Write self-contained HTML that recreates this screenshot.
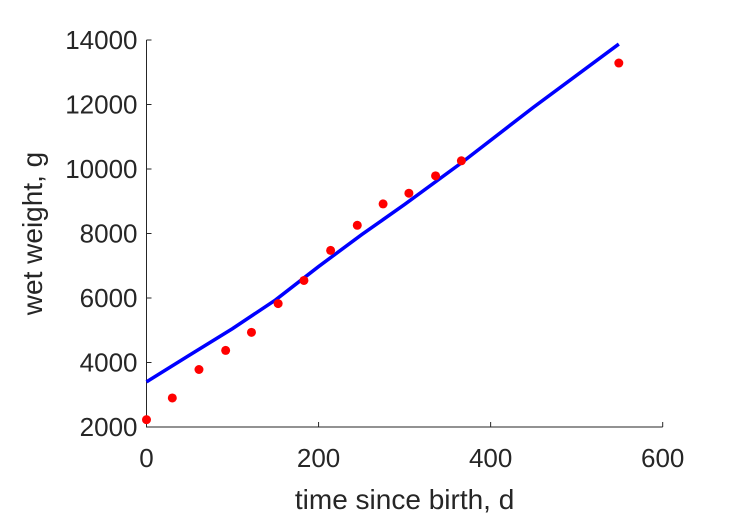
<!DOCTYPE html>
<html><head><meta charset="utf-8"><style>
body{margin:0;background:#fff;}
svg{display:block;font-family:"Liberation Sans",Arial,sans-serif;}
</style></head><body>
<svg id="chart" width="729" height="521"></svg>
<script>
const obsTime=[0,30,61,92,122,153,183,214,245,275,305,336,366,549];
const obsWeight=[2227,2900,3783,4375,4935,5827,6543,7476,8254,8917,9250,9788,10254,13285];
const fitTime=[0,50,100,150,200,250,300,366,450,549];
const fitWeight=[3400,4230,5050,5940,6975,7963,8900,10190,11920,13875];
const xTicks=[0,200,400,600];
const yTicks=[2000,4000,6000,8000,10000,12000,14000];
const X0=146.5,X1=662.7,Y0=427,Y1=40;
const sx=v=>X0+(v-0)/600*(X1-X0);
const sy=v=>Y0-(v-2000)/12000*(Y0-Y1);
const svg=document.getElementById('chart');
const NS='http://www.w3.org/2000/svg';
function mk(t,a){const e=document.createElementNS(NS,t);for(const k in a)e.setAttribute(k,a[k]);svg.appendChild(e);return e;}
let ax=mk('path',{d:`M${X0},${Y1}V${Y0}H${X1}`,fill:'none',stroke:'#262626','stroke-width':1});


xTicks.forEach(v=>{
 const t=mk('line',{x1:sx(v),x2:sx(v),y1:Y0,y2:Y0-5,stroke:'#262626'});
 
 
 const l=mk('text',{x:sx(v),y:Y0+40,'text-anchor':'middle','font-size':26,fill:'#262626'});
 l.textContent=v;
 
 
});
yTicks.forEach(v=>{
 const t=mk('line',{x1:X0,x2:X0+5,y1:sy(v),y2:sy(v),stroke:'#262626'});
 
 
 const l=mk('text',{x:X0-9,y:sy(v)+9,'text-anchor':'end','font-size':26,fill:'#262626'});
 l.textContent=v;
 
 
});
const xt=mk('text',{x:(X0+X1)/2,y:509,'text-anchor':'middle','font-size':28,fill:'#262626'});
xt.textContent='time since birth, d';


const yt=mk('text',{x:0,y:0,'text-anchor':'middle','font-size':28,fill:'#262626',transform:`translate(42,${(Y0+Y1)/2}) rotate(-90)`});
yt.textContent='wet weight, g';


const fit=mk('path',{d:fitTime.map((t,i)=>(i?'L':'M')+sx(t)+','+sy(fitWeight[i])).join(''),fill:'none',stroke:'#0000ff','stroke-width':3.5});


obsTime.forEach((t,i)=>{
 const c=mk('circle',{cx:sx(t),cy:sy(obsWeight[i]),r:4.5,fill:'#ff0000'});
 
 
});
</script>
</body></html>
